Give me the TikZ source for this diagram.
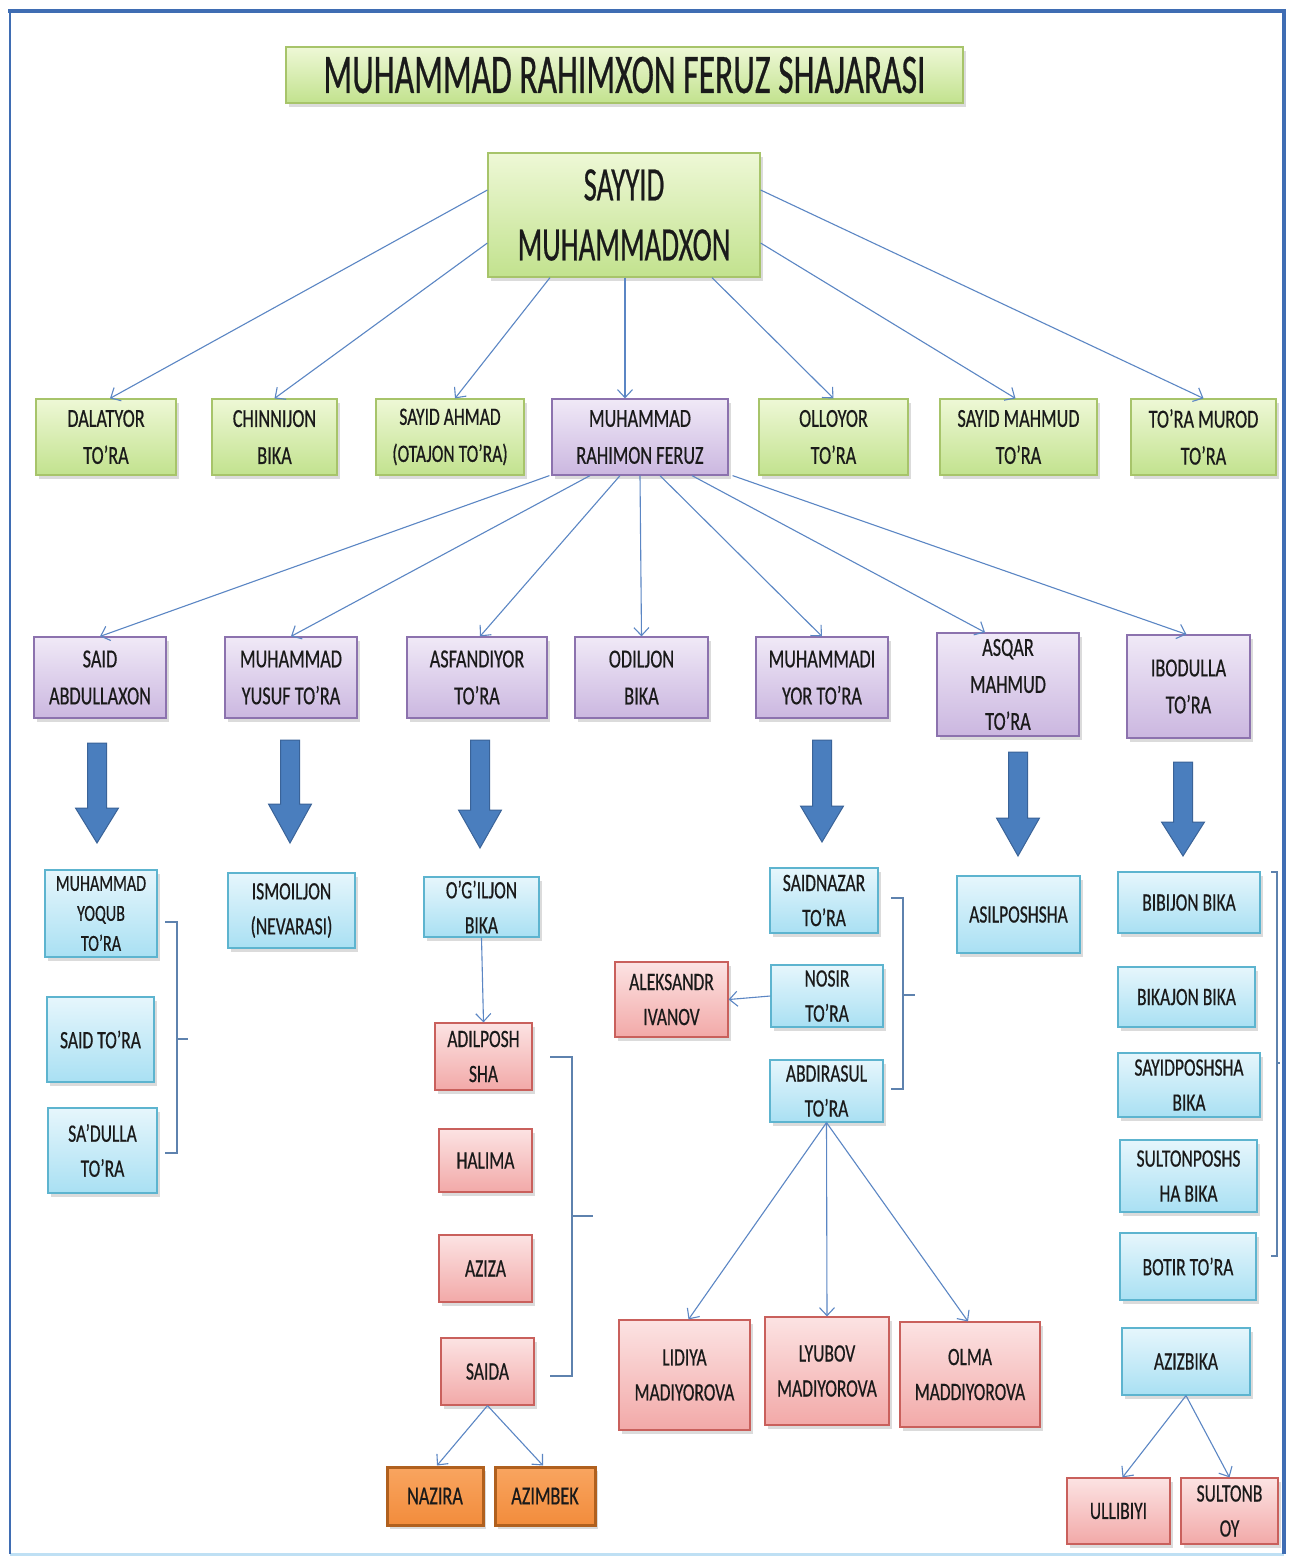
\documentclass[tikz,border=0pt]{standalone}
\usepackage{fontspec}
\setmainfont{Carlito}[FakeStretch=0.7,FakeBold=0.5]
\newfontfamily\fT{Carlito}[FakeStretch=0.6,FakeBold=0.5]
\usetikzlibrary{arrows.meta,shadows,calc}
\definecolor{frameblue}{HTML}{3F6DB3}
\definecolor{framelight}{HTML}{BFE0F4}
\definecolor{lineblue}{HTML}{5B86C4}
\definecolor{txt}{HTML}{1A1A1A}
\definecolor{gtop}{HTML}{EEF8D6}
\definecolor{gbot}{HTML}{C2E28E}
\definecolor{gedge}{HTML}{A7C46A}
\definecolor{ptop}{HTML}{F0E9F7}
\definecolor{pbot}{HTML}{CBB7E0}
\definecolor{pedge}{HTML}{8C72AE}
\definecolor{ctop}{HTML}{E6F6FC}
\definecolor{cbot}{HTML}{A9E0F3}
\definecolor{cedge}{HTML}{5DB4CF}
\definecolor{rtop}{HTML}{FCE3E3}
\definecolor{rbot}{HTML}{F2A9A8}
\definecolor{redge}{HTML}{C9605C}
\definecolor{otop}{HTML}{F9A560}
\definecolor{obot}{HTML}{F28C3C}
\definecolor{oedge}{HTML}{B0601E}
\definecolor{blkfill}{HTML}{4A7EBE}
\definecolor{blkedge}{HTML}{3A6398}
\definecolor{brkc}{HTML}{5E82AE}
\newcommand\blkarrow[4]{\filldraw[fill=blkfill,draw=blkedge,line width=1pt]
  (#1-9.5,#2) -- (#1+9.5,#2) -- (#1+9.5,#3) -- (#1+21.5,#3) -- (#1,#4) -- (#1-21.5,#3) -- (#1-9.5,#3) -- cycle;}
\begin{document}
\begin{tikzpicture}[x=1pt,y=-1pt,
  box/.style={draw, line width=1.2pt, inner sep=0pt, align=center, text=txt,
    drop shadow={opacity=0.28, shadow xshift=2.5pt, shadow yshift=-3.5pt}},
  gbox/.style={box, draw=gedge, top color=gtop, bottom color=gbot},
  pbox/.style={box, draw=pedge, top color=ptop, bottom color=pbot},
  cbox/.style={box, draw=cedge, top color=ctop, bottom color=cbot},
  rbox/.style={box, draw=redge, top color=rtop, bottom color=rbot},
  obox/.style={box, draw=oedge, line width=3pt, top color=otop, bottom color=obot},
  fa/.style={font=\fontsize{26}{37}\selectfont},
  fb/.style={font=\fontsize{25}{35}\selectfont},
  fc/.style={font=\fontsize{23}{30}\selectfont},
  conn/.style={draw=lineblue, line width=1.1pt, -{Straight Barb[length=8pt,width=15pt]}},
  brk/.style={draw=brkc, line width=1.2pt}
]
\useasboundingbox (0,0) rectangle (1291,1559);
\fill[white] (0,0) rectangle (1291,1559);
% frame
\draw[framelight, line width=3pt] (10,1554) -- (1284,1554);
\draw[frameblue, line width=2pt] (10,11) -- (10,1554);
\draw[frameblue, line width=4pt] (1284,11) -- (1284,1554);
\draw[frameblue, line width=4.5pt] (8,11) -- (1286,11);

% title and root
\node[gbox, minimum width=677pt, minimum height=56pt, font=\fT\fontsize{56}{60}\selectfont] (title) at (624.5,75) {MUHAMMAD RAHIMXON FERUZ SHAJARASI};
\node[gbox, minimum width=272pt, minimum height=124pt, font=\fT\fontsize{48}{60}\selectfont] (say) at (624,215) {SAYYID\\MUHAMMADXON};

% row 2
\node[gbox, fa, minimum width=140pt, minimum height=76pt] (dal) at (106,437) {DALATYOR\\TO’RA};
\node[gbox, fa, minimum width=125pt, minimum height=76pt] (chin) at (274.5,437) {CHINNIJON\\BIKA};
\node[gbox, fa, minimum width=148pt, minimum height=76pt, font=\fontsize{25}{37}\selectfont] (sah) at (450,437) {SAYID AHMAD\\(OTAJON TO’RA)};
\node[pbox, fa, minimum width=176pt, minimum height=76pt] (feruz) at (640,437) {MUHAMMAD\\RAHIMON FERUZ};
\node[gbox, fa, minimum width=149pt, minimum height=76pt] (oll) at (833.5,437) {OLLOYOR\\TO’RA};
\node[gbox, fa, minimum width=157pt, minimum height=76pt] (smah) at (1018.5,437) {SAYID MAHMUD\\TO’RA};
\node[gbox, fa, minimum width=145pt, minimum height=76pt] (tmur) at (1203.5,437) {TO’RA MUROD\\TO’RA};

% row 3
\node[pbox, fa, minimum width=132pt, minimum height=81pt] (sab) at (100,677.5) {SAID\\ABDULLAXON};
\node[pbox, fa, minimum width=132pt, minimum height=81pt] (myt) at (291,677.5) {MUHAMMAD\\YUSUF TO’RA};
\node[pbox, fa, minimum width=140pt, minimum height=81pt] (asf) at (477,677.5) {ASFANDIYOR\\TO’RA};
\node[pbox, fa, minimum width=133pt, minimum height=81pt] (odil) at (641.5,677.5) {ODILJON\\BIKA};
\node[pbox, fa, minimum width=132pt, minimum height=81pt] (myor) at (822,677.5) {MUHAMMADI\\YOR TO’RA};
\node[pbox, fa, minimum width=142pt, minimum height=103pt] (asq) at (1008,684.5) {ASQAR\\MAHMUD\\TO’RA};
\node[pbox, fa, minimum width=123pt, minimum height=103pt] (ibo) at (1188.5,686.5) {IBODULLA\\TO’RA};

% block arrows
\blkarrow{97}{743}{808}{843}
\blkarrow{290}{740}{804}{843}
\blkarrow{480}{740}{810}{848}
\blkarrow{822}{740}{806}{842}
\blkarrow{1018}{752}{818}{856}
\blkarrow{1183}{762}{822}{856}

% brackets
\draw[brk] (165,922) -- (177,922) -- (177,1153) -- (165,1153);
\draw[brk] (177,1039) -- (188,1039);
\draw[brk] (550,1057) -- (572,1057) -- (572,1376) -- (550,1376);
\draw[brk] (572,1216) -- (593,1216);
\draw[brk] (891,898) -- (903,898) -- (903,1089) -- (891,1089);
\draw[brk] (903,995) -- (915,995);
\draw[brk] (1271,872) -- (1277,872) -- (1277,1256) -- (1271,1256);
\draw[brk] (1277,1063) -- (1280,1063);

% column 1
\node[cbox, fc, minimum width=112pt, minimum height=87pt] (myq) at (101,913.5) {MUHAMMAD\\YOQUB\\TO’RA};
\node[cbox, fb, minimum width=107pt, minimum height=85pt] (stora) at (100.5,1039.5) {SAID TO’RA};
\node[cbox, fb, minimum width=109pt, minimum height=85pt] (sadulla) at (102.5,1150.5) {SA’DULLA\\TO’RA};
% column 2
\node[cbox, fb, minimum width=127pt, minimum height=75pt] (ism) at (291.5,910.5) {ISMOILJON\\(NEVARASI)};
% column 3
\node[cbox, fb, minimum width=115pt, minimum height=60pt] (ogil) at (481.5,907) {O’G’ILJON\\BIKA};
\node[rbox, fb, minimum width=97pt, minimum height=67pt] (adil) at (483.5,1056.5) {ADILPOSH\\SHA};
\node[rbox, fb, minimum width=93pt, minimum height=63pt] (hal) at (485.5,1160.5) {HALIMA};
\node[rbox, fb, minimum width=93pt, minimum height=67pt] (aziza) at (485.5,1268.5) {AZIZA};
\node[rbox, fb, minimum width=93pt, minimum height=67pt] (saida) at (487.5,1371.5) {SAIDA};
\node[obox, fa, minimum width=96pt, minimum height=58pt] (naz) at (435,1496) {NAZIRA};
\node[obox, fa, minimum width=100pt, minimum height=58pt] (azb) at (545,1496) {AZIMBEK};
% column 4
\node[cbox, fb, minimum width=108pt, minimum height=65pt] (snaz) at (824,900.5) {SAIDNAZAR\\TO’RA};
\node[cbox, fb, minimum width=112pt, minimum height=62pt] (nos) at (827,996) {NOSIR\\TO’RA};
\node[cbox, fb, minimum width=113pt, minimum height=62pt] (abd) at (826.5,1091) {ABDIRASUL\\TO’RA};
\node[rbox, fb, minimum width=113pt, minimum height=75pt] (alek) at (671.5,999.5) {ALEKSANDR\\IVANOV};
\node[rbox, fb, minimum width=131pt, minimum height=110pt] (lid) at (684.5,1375) {LIDIYA\\MADIYOROVA};
\node[rbox, fb, minimum width=124pt, minimum height=108pt] (lyu) at (827,1371) {LYUBOV\\MADIYOROVA};
\node[rbox, fb, minimum width=140pt, minimum height=105pt] (olma) at (970,1374.5) {OLMA\\MADDIYOROVA};
% column 5
\node[cbox, fb, minimum width=123pt, minimum height=77pt] (asil) at (1018.5,914.5) {ASILPOSHSHA};
% column 6
\node[cbox, fb, minimum width=142pt, minimum height=61pt] (bibi) at (1189,902.5) {BIBIJON BIKA};
\node[cbox, fb, minimum width=137pt, minimum height=60pt] (bika) at (1186.5,997) {BIKAJON BIKA};
\node[cbox, fb, minimum width=142pt, minimum height=64pt] (sayp) at (1189,1085) {SAYIDPOSHSHA\\BIKA};
\node[cbox, fb, minimum width=137pt, minimum height=72pt] (sulp) at (1188.5,1176) {SULTONPOSHS\\HA BIKA};
\node[cbox, fb, minimum width=136pt, minimum height=67pt] (botir) at (1188,1266.5) {BOTIR TO’RA};
\node[cbox, fb, minimum width=128pt, minimum height=67pt] (aziz) at (1186,1361.5) {AZIZBIKA};
\node[rbox, fb, minimum width=103pt, minimum height=66pt] (ulli) at (1118.5,1511) {ULLIBIYI};
\node[rbox, fb, minimum width=97pt, minimum height=66pt] (sulb) at (1229.5,1511) {SULTONB\\OY};

% connectors from root
\draw[conn] ([yshift=25pt]say.west) -- ([xshift=4pt]dal.north);
\draw[conn] ([yshift=-28pt]say.west) -- (chin.north);
\draw[conn] ([xshift=-74pt]say.south) -- ([xshift=5pt]sah.north);
\draw[conn] ([xshift=1pt]say.south) -- ([xshift=-15pt]feruz.north);
\draw[conn] ([xshift=88pt]say.south) -- (oll.north);
\draw[conn] ([yshift=-28pt]say.east) -- ([xshift=-3pt]smah.north);
\draw[conn] ([yshift=25pt]say.east) -- (tmur.north);
% connectors from feruz
\draw[conn] ([xshift=-2pt]feruz.south west) -- (sab.north);
\draw[conn] ([xshift=-50pt]feruz.south) -- (myt.north);
\draw[conn] ([xshift=-20pt]feruz.south) -- ([xshift=3pt]asf.north);
\draw[conn] (feruz.south) -- (odil.north);
\draw[conn] ([xshift=20pt]feruz.south) -- (myor.north);
\draw[conn] ([xshift=52pt]feruz.south) -- ([xshift=-23pt]asq.north);
\draw[conn] ([xshift=4pt]feruz.south east) -- ([xshift=-2pt]ibo.north);
% lower connectors
\draw[conn] (ogil.south) -- (adil.north);
\draw[conn] (saida.south) -- ([xshift=2pt]naz.north);
\draw[conn] (saida.south) -- ([xshift=-2pt]azb.north);
\draw[conn] (nos.west) -- (alek.east);
\draw[conn] (abd.south) -- ([xshift=4pt]lid.north);
\draw[conn] (abd.south) -- (lyu.north);
\draw[conn] (abd.south) -- ([xshift=-2pt]olma.north);
\draw[conn] (aziz.south) -- ([xshift=4pt]ulli.north);
\draw[conn] (aziz.south) -- (sulb.north);
\end{tikzpicture}
\end{document}
